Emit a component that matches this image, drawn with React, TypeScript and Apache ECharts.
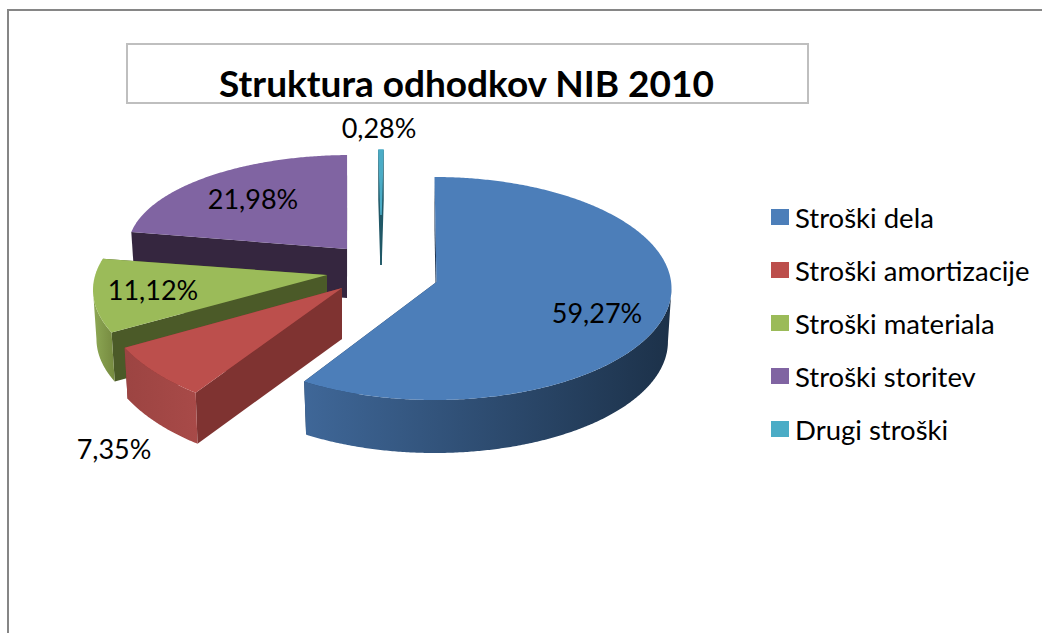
import React, { useEffect, useRef } from "react";
import * as echarts from "echarts";

const titleText = "Struktura odhodkov NIB 2010";
const categories = ["Stroški dela", "Stroški amortizacije", "Stroški materiala", "Stroški storitev", "Drugi stroški"];
const shares = [59.27, 7.35, 11.12, 21.98, 0.28];
const topColors = ["#4C7EB9", "#BC4F4C", "#9BBB59", "#8064A2", "#4BACC6"];
const cutColors = ["#1F3552", "#7F3331", "#4B5A28", "#35263F", "#205867"];
const wallFrom = ["#3F6798", "#9C4442", "#8EA955", "#35263F", "#205867"];
const wallTo = ["#1C3149", "#A84A48", "#75893F", "#35263F", "#205867"];

// Pseudo-3D placement of each exploded slice (tilted ellipse + extrusion)
const slicePlacement = [
  { ax: 436.5, ay: 282, ex: 434.5, ey: 288.5, rx: 237, ry: 111.5, shift: 0, depth: 53, lx: 597, ly: 312, z: 2, edge: 0 },
  { ax: 342, ay: 288, ex: 320, ey: 280, rx: 226, ry: 135, shift: 0, depth: 51, lx: 114, ly: 448, z: 4, edge: 0 },
  { ax: 327, ay: 275, ex: 323, ey: 290, rx: 230, ry: 108, shift: 7, depth: 49, lx: 153, ly: 289, z: 3, edge: 0 },
  { ax: 347, ay: 249, ex: 351, ey: 248, rx: 223, ry: 93, shift: 0, depth: 49, lx: 253, ly: 198, z: 2, edge: 0 },
  { ax: 381, ay: 215, ex: 383, ey: 240, rx: 230, ry: 90, shift: 0, depth: 50, lx: 379, ly: 127, z: 2, edge: 1.5 },
];

const total = shares.reduce((a, b) => a + b, 0);
const fmt = (v: number) => v.toFixed(2).replace(".", ",") + "%";

function makeRender(i: number) {
  return (_params: any, api: any) => {
    const p = slicePlacement[i];
    const before = shares.slice(0, i).reduce((a, b) => a + b, 0);
    const value = api.value(0);
    const a0 = (before / total) * 360 + p.shift;
    const a1 = ((before + value) / total) * 360 + p.shift;
    const pt = (deg: number, d = 0) => {
      const r = (deg * Math.PI) / 180;
      const rx = d ? p.rx * 0.985 : p.rx;
      return [p.ex + rx * Math.sin(r), p.ey - p.ry * Math.cos(r) + d];
    };
    const arc = (s: number, e: number, d = 0) => {
      const n = Math.max(2, Math.ceil(Math.abs(e - s) / 0.5));
      const out: number[][] = [];
      for (let k = 0; k <= n; k++) out.push(pt(s + ((e - s) * k) / n, d));
      return out;
    };
    const apexTop = [p.ax, p.ay];
    const apexBot = [p.ax, p.ay + p.depth];
    const children: any[] = [];
    const cutWall = (deg: number) => ({
      type: "polygon",
      shape: { points: [apexTop, pt(deg), pt(deg, p.depth), apexBot] },
      style: { fill: cutColors[i], stroke: p.edge ? cutColors[i] : "none", lineWidth: p.edge },
    });
    children.push(cutWall(a1), cutWall(a0));
    const w0 = Math.max(a0, 90);
    const w1 = Math.min(a1, 270);
    if (w1 > w0) {
      children.push({
        type: "polygon",
        shape: { points: [...arc(w0, w1), ...arc(w1, w0, p.depth)] },
        style: {
          fill: new echarts.graphic.LinearGradient(0, 0, 1, 0, [
            { offset: 0, color: wallFrom[i] },
            { offset: 1, color: wallTo[i] },
          ]),
        },
      });
    }
    children.push({
      type: "polygon",
      shape: { points: [apexTop, ...arc(a0, a1)] },
      style: { fill: topColors[i], stroke: p.edge ? topColors[i] : "none", lineWidth: p.edge },
    });
    children.push({
      type: "text",
      x: p.lx,
      y: p.ly,
      z2: 20,
      style: {
        text: fmt(value),
        fill: "#000",
        font: "27px Lato",
        align: "center",
        verticalAlign: "middle",
      },
    });
    return { type: "group", children };
  };
}

export default function App() {
  const ref = useRef<HTMLDivElement>(null);
  useEffect(() => {
    const chart = echarts.init(ref.current!, null, { renderer: "svg" });
    chart.setOption({
      animation: false,
      backgroundColor: "#fff",
      title: {
        text: titleText,
        left: 461.5,
        top: 59,
        textAlign: "center",
        textStyle: { fontFamily: "Lato", fontWeight: "bold", fontSize: 37, color: "#000" },
      },
      legend: {
        orient: "vertical",
        left: 771,
        top: 203,
        padding: 0,
        itemWidth: 18,
        itemHeight: 16,
        itemGap: 25,
        icon: "rect",
        selectedMode: false,
        data: categories,
        textStyle: { fontFamily: "Lato", fontSize: 27.5, color: "#000", padding: [0, 0, 0, 1] },
      },
      graphic: [
        { type: "polyline", z: 0, shape: { points: [[8, 633], [8, 10], [1042, 10]] }, style: { stroke: "#868686", lineWidth: 2, fill: "none" } },
        { type: "rect", z: 0, shape: { x: 127, y: 44, width: 681, height: 59 }, style: { fill: "#fff", stroke: "#BFBFBF", lineWidth: 2 } },
      ],
      series: categories.map((name, i) => ({
        type: "custom",
        name,
        coordinateSystem: "none",
        z: slicePlacement[i].z,
        itemStyle: { color: topColors[i] },
        data: [shares[i]],
        renderItem: makeRender(i),
      })),
    });
    return () => chart.dispose();
  }, []);
  return <div ref={ref} style={{ position: "fixed", left: 0, top: 0, width: 1042, height: 633 }} />;
}
